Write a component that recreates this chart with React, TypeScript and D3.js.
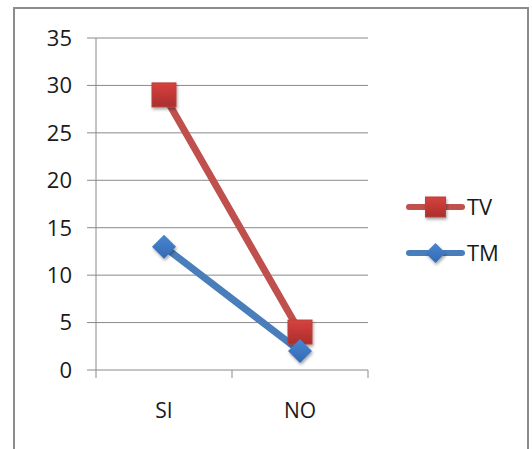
import React from "react";
import * as d3 from "d3";

const categories = ["SI", "NO"];
const seriesNames = ["TV", "TM"];
const tvValues = [29, 4];
const tmValues = [13, 2];
const yTicks = [0, 5, 10, 15, 20, 25, 30, 35];

const W = 532;
const H = 449;
const plot = { left: 96, right: 368, top: 38, bottom: 370 };
const FONT = "'Open Sans', 'Liberation Sans', sans-serif";

export default function App() {
  const x = d3.scaleBand<string>().domain(categories).range([plot.left, plot.right]);
  const y = d3.scaleLinear().domain([0, 35]).range([plot.bottom, plot.top]);
  const cx = (c: string) => (x(c) as number) + x.bandwidth() / 2;
  const line = d3
    .line<number>()
    .x((_, i) => cx(categories[i]))
    .y((d) => y(d));
  const series = [
    { name: seriesNames[0], values: tvValues, color: "#c0504d", marker: "square" },
    { name: seriesNames[1], values: tmValues, color: "#4a7ebb", marker: "diamond" },
  ];
  const xTickPos = [plot.left, ...categories.map((c) => (x(c) as number) + x.bandwidth())];

  const drawMarker = (type: string, px: number, py: number, size: number, key: string) => {
    if (type === "square") {
      return (
        <rect
          key={key}
          x={px - size / 2}
          y={py - size / 2}
          width={size}
          height={size}
          fill="url(#gradRed)"
          stroke="#b8413e"
          strokeWidth={1}
          filter="url(#shadow)"
        />
      );
    }
    const r = size / 2;
    return (
      <path
        key={key}
        d={`M${px},${py - r}L${px + r},${py}L${px},${py + r}L${px - r},${py}Z`}
        fill="url(#gradBlue)"
        filter="url(#shadow)"
      />
    );
  };

  return (
    <svg width={W} height={H} style={{ position: "absolute", left: 0, top: 0 }}>
      <defs>
        <linearGradient id="gradRed" x1="0" y1="0" x2="0" y2="1">
          <stop offset="0" stopColor="#d8413e" />
          <stop offset="1" stopColor="#a92f2d" />
        </linearGradient>
        <linearGradient id="gradBlue" x1="0" y1="0" x2="0" y2="1">
          <stop offset="0" stopColor="#4a86d0" />
          <stop offset="1" stopColor="#3469b3" />
        </linearGradient>
        <filter id="shadow" x="-50%" y="-50%" width="200%" height="200%">
          <feDropShadow dx="1" dy="2" stdDeviation="1.5" floodColor="#000" floodOpacity="0.35" />
        </filter>
      </defs>
      <rect x={0} y={0} width={W} height={H} fill="#ffffff" />
      <rect x={14} y={8} width={514} height={460} fill="#ffffff" stroke="#8c8c8c" strokeWidth={2} />

      {yTicks.map((t) => (
        <g key={t}>
          <line x1={plot.left - 9} x2={plot.right} y1={y(t)} y2={y(t)} stroke="#8a8a8a" strokeWidth={1} />
          <text
            x={plot.left - 24}
            y={y(t)}
            dy="0.36em"
            textAnchor="end"
            fontFamily={FONT}
            fontSize={22}
            fill="#1a1a1a"
          >
            {t}
          </text>
        </g>
      ))}
      <line x1={plot.left} x2={plot.left} y1={plot.top} y2={plot.bottom} stroke="#8a8a8a" strokeWidth={1} />
      {xTickPos.map((p, i) => (
        <line key={i} x1={p} x2={p} y1={plot.bottom} y2={plot.bottom + 8} stroke="#8a8a8a" strokeWidth={1} />
      ))}
      {categories.map((c) => (
        <text
          key={c}
          x={cx(c)}
          y={410}
          dy="0.36em"
          textAnchor="middle"
          fontFamily={FONT}
          fontSize={21}
          fill="#1a1a1a"
        >
          {c}
        </text>
      ))}

      {series.map((s) => (
        <path
          key={s.name}
          d={line(s.values) as string}
          fill="none"
          stroke={s.color}
          strokeWidth={7}
          strokeLinejoin="round"
          strokeLinecap="round"
        />
      ))}
      {series.map((s) =>
        s.values.map((v, i) =>
          drawMarker(s.marker, cx(categories[i]), y(v), 24, s.name + i)
        )
      )}

      {series.map((s, i) => {
        const ly = 207 + i * 46;
        return (
          <g key={s.name}>
            <line x1={409} x2={462} y1={ly} y2={ly} stroke={s.color} strokeWidth={6} strokeLinecap="round" />
            {drawMarker(s.marker, 435.5, ly, 20, "leg" + i)}
            <text x={467} y={ly} dy="0.36em" fontFamily={FONT} fontSize={22} fill="#1a1a1a">
              {s.name}
            </text>
          </g>
        );
      })}
    </svg>
  );
}
